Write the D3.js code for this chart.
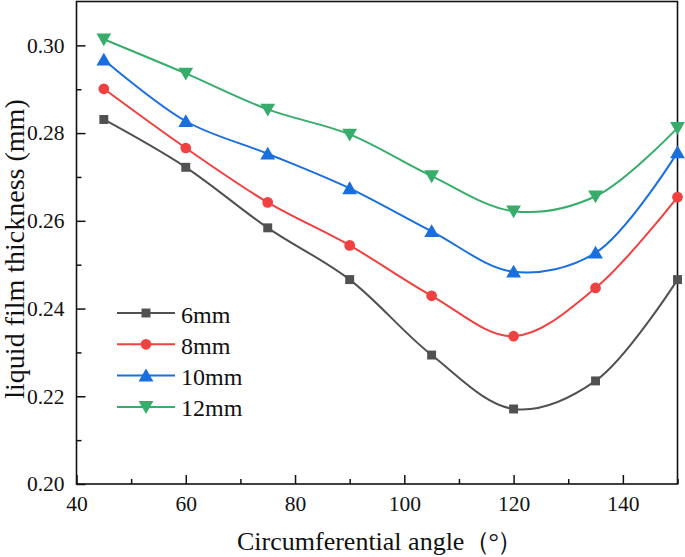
<!DOCTYPE html>
<html>
<head>
<meta charset="utf-8">
<script src="https://cdn.jsdelivr.net/npm/d3@7"></script>
<style>
  body { margin: 0; background: #fff; }
  svg { display: block; }
  text { font-family: "Liberation Serif", "Times New Roman", serif; fill: #111; }
</style>
</head>
<body>
<svg id="chart" width="685" height="557"></svg>
<script>
// data
const angles = [45, 60, 75, 90, 105, 120, 135, 150];
const t6mm  = [0.2831, 0.2722, 0.2584, 0.2466, 0.2294, 0.2171, 0.2235, 0.2466];
const t8mm  = [0.2901, 0.2766, 0.2642, 0.2544, 0.2429, 0.2337, 0.2447, 0.2654];
const t10mm = [0.2967, 0.2827, 0.2753, 0.2674, 0.2576, 0.2484, 0.2527, 0.2756];
const t12mm = [0.3014, 0.2936, 0.2854, 0.2797, 0.2702, 0.2622, 0.2656, 0.2812];
const seriesNames = ['6mm', '8mm', '10mm', '12mm'];
const xTicks = [40, 60, 80, 100, 120, 140];
const yTicks = [0.20, 0.22, 0.24, 0.26, 0.28, 0.30];

const colors = ['#515151', '#F14040', '#1A6FDF', '#37AD6B'];
const symbols = [d3.symbolSquare, d3.symbolCircle, d3.symbolTriangle, d3.symbolTriangle];
const symSizes = [80, 90, 95, 95];
const flip = [false, false, false, true];

const series = [t6mm, t8mm, t10mm, t12mm].map((vals, i) => ({
  name: seriesNames[i],
  points: angles.map((a, j) => ({x: a, y: vals[j]}))
}));

const svg = d3.select('#chart');
const plotL = 76.5, plotR = 677.5, plotT = 1.5, plotB = 484;

const x = d3.scaleLinear().domain([40, 150]).range([plotL, plotR]);
const y = d3.scaleLinear().domain([0.20, 0.31]).range([plotB, plotT]);

// minor ticks
svg.append('g')
  .attr('transform', 'translate(0,' + plotB + ')')
  .call(d3.axisBottom(x).tickValues([50, 70, 90, 110, 130, 150]).tickSize(-5).tickFormat(''))
  .call(g => g.select('.domain').remove())
  .selectAll('line').attr('stroke', '#111').attr('stroke-width', 1.5);
svg.append('g')
  .attr('transform', 'translate(' + plotL + ',0)')
  .call(d3.axisLeft(y).tickValues([0.21, 0.23, 0.25, 0.27, 0.29]).tickSize(-5).tickFormat(''))
  .call(g => g.select('.domain').remove())
  .selectAll('line').attr('stroke', '#111').attr('stroke-width', 1.5);

// major axes
const xAxis = svg.append('g')
  .attr('transform', 'translate(0,' + plotB + ')')
  .call(d3.axisBottom(x).tickValues(xTicks).tickSize(-9).tickPadding(12).tickFormat(d3.format('d')));
const yAxis = svg.append('g')
  .attr('transform', 'translate(' + plotL + ',0)')
  .call(d3.axisLeft(y).tickValues(yTicks).tickSize(-9).tickPadding(12).tickFormat(d3.format('.2f')));

[xAxis, yAxis].forEach(g => {
  g.select('.domain').remove();
  g.selectAll('line').attr('stroke', '#111').attr('stroke-width', 1.5);
  g.selectAll('text').attr('font-size', 21.5).attr('fill', '#111')
    .style('font-family', '"Liberation Serif", serif');
});

// frame
svg.append('rect')
  .attr('x', plotL).attr('y', plotT)
  .attr('width', plotR - plotL).attr('height', plotB - plotT)
  .attr('fill', 'none').attr('stroke', '#111').attr('stroke-width', 1.6);

// lines
const line = d3.line()
  .x(d => x(d.x))
  .y(d => y(d.y))
  .curve(d3.curveCatmullRom.alpha(0.5));

series.forEach((s, i) => {
  svg.append('path')
    .datum(s.points)
    .attr('d', line)
    .attr('fill', 'none')
    .attr('stroke', colors[i])
    .attr('stroke-width', 2);
});

function marker(g, i) {
  g.append('path')
    .attr('d', d3.symbol().type(symbols[i]).size(symSizes[i]))
    .attr('fill', colors[i])
    .attr('transform', flip[i] ? 'rotate(180)' : null);
}

// triangles drawn by d3 sit a little off centre, nudge them back
function nudge(i) {
  if (symbols[i] !== d3.symbolTriangle) return 0;
  return flip[i] ? -1.5 : 1.5;
}

series.forEach((s, i) => {
  svg.append('g').selectAll('g')
    .data(s.points)
    .enter().append('g')
    .attr('transform', d => 'translate(' + x(d.x) + ',' + (y(d.y) + nudge(i)) + ')')
    .each(function () { marker(d3.select(this), i); });
});

// legend
const legend = svg.append('g');
seriesNames.forEach((name, i) => {
  const ly = 313 + i * 31.3;
  const row = legend.append('g').attr('transform', 'translate(0,' + ly + ')');
  row.append('line')
    .attr('x1', 117).attr('x2', 175)
    .attr('stroke', colors[i]).attr('stroke-width', 2);
  marker(row.append('g').attr('transform', 'translate(146,' + nudge(i) + ')'), i);
  row.append('text')
    .attr('x', 181).attr('y', 9.5)
    .attr('font-size', 24)
    .text(name);
});

// axis titles
const xTitle = svg.append('text')
  .attr('x', 237).attr('y', 550)
  .attr('font-size', 26);
xTitle.append('tspan').text('Circumferential angle');
xTitle.append('tspan').attr('letter-spacing', -2).text('（°）');

svg.append('text')
  .attr('transform', 'translate(24,249) rotate(-90)')
  .attr('text-anchor', 'middle')
  .attr('font-size', 28)
  .text('liquid film thickness (mm)');
</script>
</body>
</html>
